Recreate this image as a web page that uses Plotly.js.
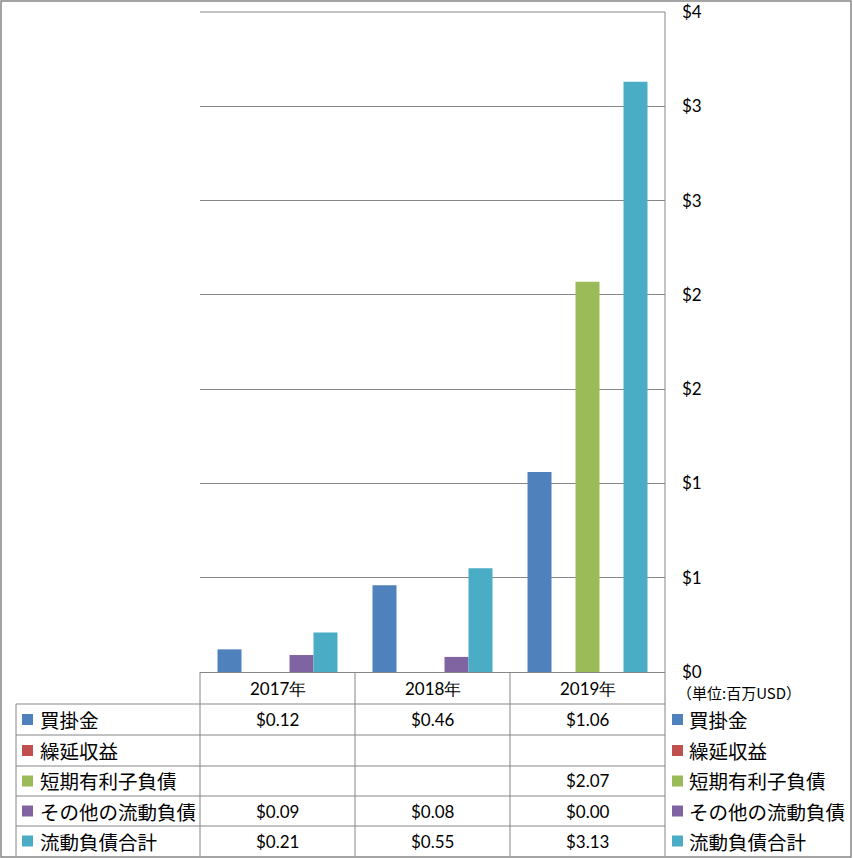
<!DOCTYPE html>
<html>
<head>
<meta charset="utf-8">
<script src="https://cdn.plot.ly/plotly-3.0.1.min.js"></script>
<style>
  html, body { margin: 0; padding: 0; background: #fff; }
  #chart { width: 853px; height: 858px; }
</style>
</head>
<body>
<div id="chart"></div>
<script>
// data
const years = ["2017年", "2018年", "2019年"];
const seriesNames = ["買掛金", "繰延収益", "短期有利子負債", "その他の流動負債", "流動負債合計"];
const seriesColors = ["#4F81BD", "#C0504D", "#9BBB59", "#8064A2", "#4BACC6"];
const accountsPayable = [0.12, 0.46, 1.06];
const deferredRevenue = [null, null, null];
const shortTermDebt = [null, null, 2.07];
const otherCurrent = [0.09, 0.08, 0.00];
const totalCurrent = [0.21, 0.55, 3.13];
const tickVals = [0, 0.5, 1, 1.5, 2, 2.5, 3, 3.5];
const tickText = ["$0", "$1", "$1", "$2", "$2", "$3", "$3", "$4"];
const unitLabel = "（単位:百万USD）";

const seriesValues = [accountsPayable, deferredRevenue, shortTermDebt, otherCurrent, totalCurrent];

// page geometry (pixels) -> paper coords
const W = 853, H = 858;
const M = { l: 200, r: 188, t: 12, b: 186 };
const plotW = W - M.l - M.r;
const plotH = H - M.t - M.b;
const px = (X) => (X - M.l) / plotW;
const py = (Y) => (H - M.b - Y) / plotH;

const GRID = "#868686";
const JP = "'Noto Sans CJK JP', 'Noto Sans', sans-serif";
const NUM = "Lato, 'Noto Sans', sans-serif";

const rowTops = [704, 735, 766, 796, 826];
const rowBottom = 856;
const rowCenter = (i) => (rowTops[i] + (i + 1 < rowTops.length ? rowTops[i + 1] : rowBottom)) / 2;

const traces = seriesNames.map((name, i) => ({
  type: "bar",
  name: name,
  x: years,
  y: seriesValues[i],
  marker: { color: seriesColors[i], line: { width: 0 } },
  hovertemplate: "%{x}<br>" + name + ": $%{y:.2f}<extra></extra>",
}));

const shapes = [];
const line = (x0, y0, x1, y1) => shapes.push({
  type: "line", xref: "paper", yref: "paper",
  x0: px(x0), y0: py(y0), x1: px(x1), y1: py(y1),
  line: { color: GRID, width: 1 },
});

// outer frame
shapes.push({
  type: "rect", xref: "paper", yref: "paper",
  x0: px(1), y0: py(1), x1: px(851), y1: py(857),
  line: { color: GRID, width: 1.5 }, fillcolor: "rgba(0,0,0,0)",
});
// top gridline and right edge of plot area down through the table
line(200, 12, 665, 12);
line(665, 12, 665, rowBottom);
// data table grid
[200, 355, 510].forEach((x) => line(x, 672, x, rowBottom));
line(16, 704, 16, rowBottom);
rowTops.forEach((y) => line(16, y, 665, y));

// legend keys, left column and right side
seriesNames.forEach((name, i) => {
  const cy = rowCenter(i);
  [22, 672].forEach((x) => shapes.push({
    type: "rect", xref: "paper", yref: "paper",
    x0: px(x), x1: px(x + 11), y0: py(cy - 5.5), y1: py(cy + 5.5),
    fillcolor: seriesColors[i], line: { width: 0 },
  }));
});

const annotations = [];
// year headers
years.forEach((yr) => annotations.push({
  xref: "x", yref: "paper", x: yr, y: py(688),
  text: yr, showarrow: false, xanchor: "center", yanchor: "middle",
  font: { family: NUM, size: 17, color: "#000" },
}));
// unit label
annotations.push({
  xref: "paper", yref: "paper", x: px(675), y: py(692),
  text: unitLabel, showarrow: false, xanchor: "left", yanchor: "middle",
  font: { family: JP, size: 15, color: "#000" },
});
seriesNames.forEach((name, i) => {
  const cy = py(rowCenter(i));
  [38, 687].forEach((x) => annotations.push({
    xref: "paper", yref: "paper", x: px(x), y: cy,
    text: name, showarrow: false, xanchor: "left", yanchor: "middle",
    font: { family: JP, size: 19.5, color: "#000" },
  }));
  seriesValues[i].forEach((v, j) => {
    if (v === null) return;
    annotations.push({
      xref: "x", yref: "paper", x: years[j], y: cy,
      text: "$" + v.toFixed(2), showarrow: false, xanchor: "center", yanchor: "middle",
      font: { family: NUM, size: 17, color: "#000" },
    });
  });
});

const layout = {
  width: W,
  height: H,
  margin: { l: M.l, r: M.r, t: M.t, b: M.b, pad: 0 },
  paper_bgcolor: "#fff",
  plot_bgcolor: "#fff",
  showlegend: false,
  barmode: "group",
  bargap: 0.226,
  bargroupgap: 0,
  xaxis: {
    type: "category",
    categoryorder: "array",
    categoryarray: years,
    showticklabels: false,
    showgrid: false,
    zeroline: false,
    showline: false,
    ticks: "",
    fixedrange: true,
  },
  yaxis: {
    side: "right",
    range: [0, 3.5],
    tickvals: tickVals,
    ticktext: tickText,
    tickfont: { family: NUM, size: 17, color: "#000" },
    ticks: "",
    ticklabelstandoff: 16,
    showgrid: true,
    gridcolor: GRID,
    gridwidth: 1,
    zeroline: true,
    zerolinecolor: GRID,
    zerolinewidth: 1,
    showline: false,
    fixedrange: true,
  },
  shapes: shapes,
  annotations: annotations,
};

Plotly.newPlot("chart", traces, layout, { displayModeBar: false, responsive: false });
</script>
</body>
</html>
